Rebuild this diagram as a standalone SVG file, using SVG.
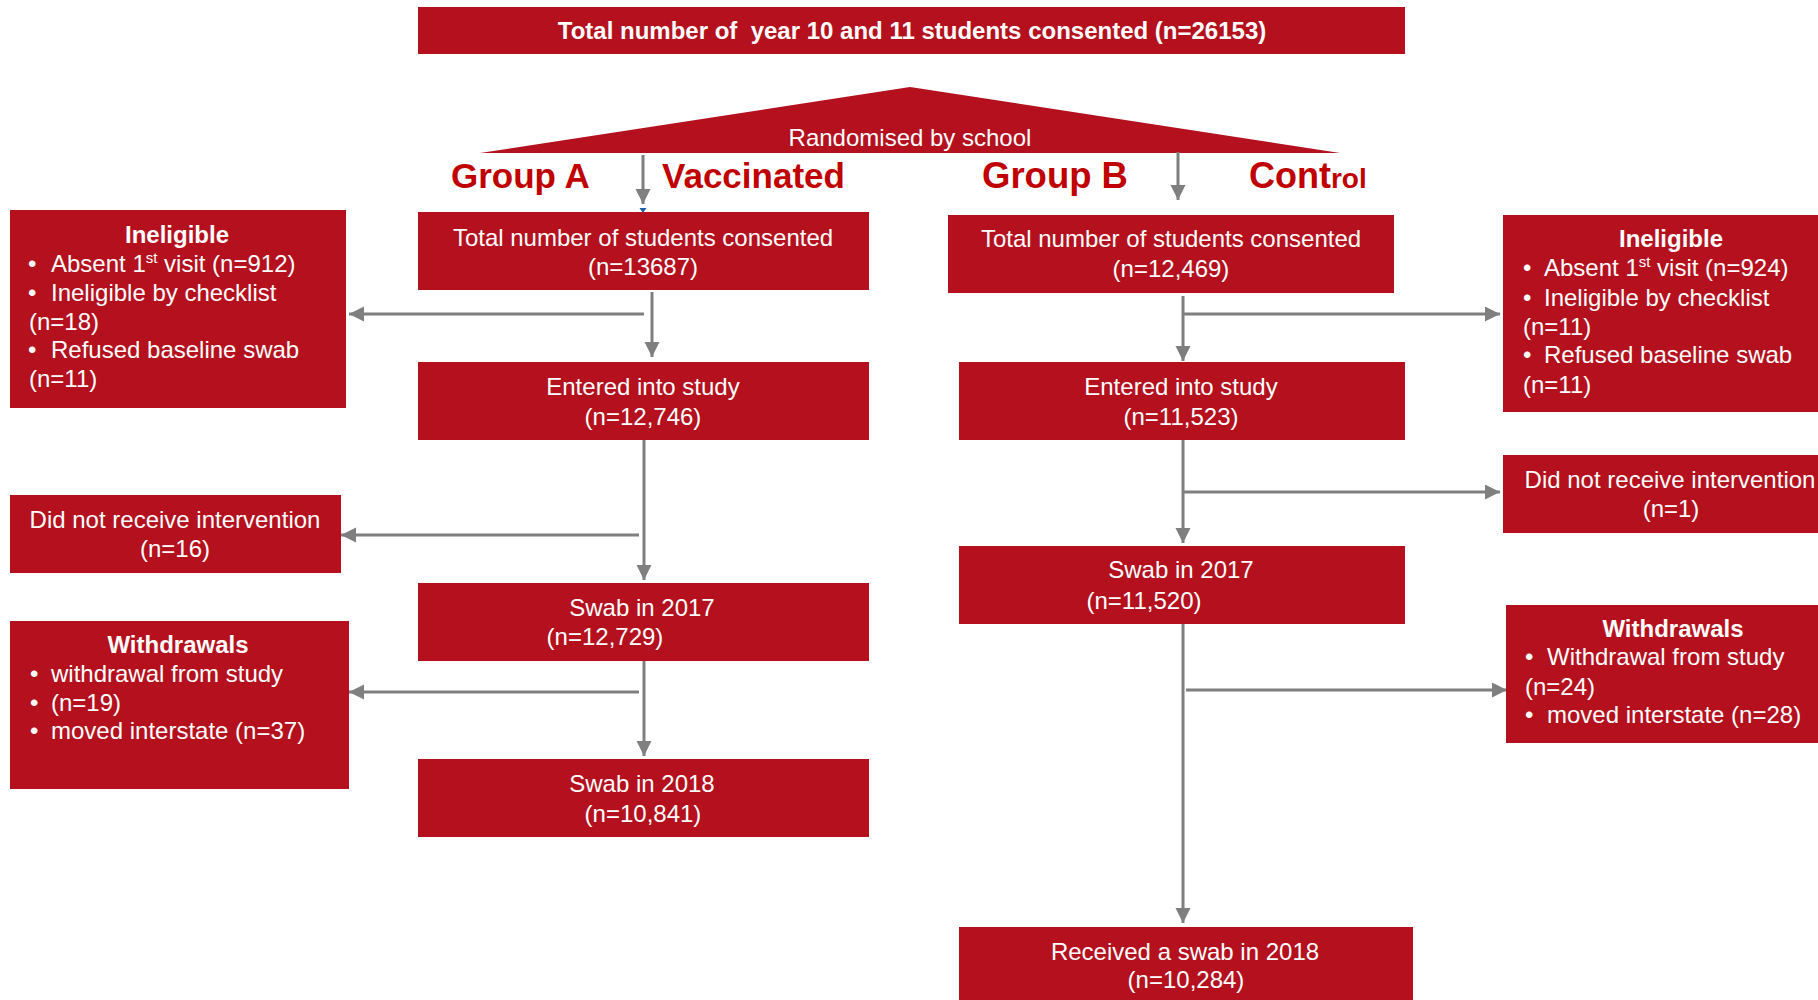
<svg xmlns="http://www.w3.org/2000/svg" width="1818" height="1000" viewBox="0 0 1818 1000">
<defs>
<style>
.box{fill:#B5101E}
.t{font-family:"Liberation Sans",Arial,sans-serif;font-size:24px;fill:#FFFFFF}
.c{text-anchor:middle}
.b{font-weight:bold}
.sup{font-size:15px}
.grp{font-family:"Liberation Sans",Arial,sans-serif;font-weight:bold;fill:#C00000}
.ln{stroke:#7F7F7F;stroke-width:3;fill:none}
.arr{marker-end:url(#ah)}
</style>
<marker id="ah" markerUnits="userSpaceOnUse" markerWidth="16" markerHeight="16" refX="15" refY="7.5" orient="auto">
<path d="M0,0 L15,7.5 L0,15 z" fill="#7F7F7F"/>
</marker>
</defs>
<rect width="1818" height="1000" fill="#FFFFFF"/>

<g id="top">
<rect class="box" x="418" y="7" width="987" height="47"/>
<text class="t c b" x="912" y="39">Total number of &#160;year 10 and 11 students consented (n=26153)</text>
</g>

<g id="randomised">
<polygon class="box" points="910,87 480,153 1340,153"/>
<text class="t c" x="910" y="146">Randomised by school</text>
</g>

<g id="labels">
<text class="grp" x="451" y="188" font-size="35">Group A</text>
<text class="grp" x="662" y="188" font-size="35">Vaccinated</text>
<text class="grp" x="982" y="188" font-size="36.5">Group B</text>
<text class="grp" x="1249" y="188" font-size="36">Cont<tspan font-size="28">rol</tspan></text>
</g>

<g id="connectors">
<line class="ln arr" x1="643" y1="155" x2="643" y2="204"/>
<polygon points="639.5,208 646.5,208 643,213" fill="#1F5FA8"/>
<line class="ln arr" x1="1178" y1="152" x2="1178" y2="200"/>
<line class="ln arr" x1="652" y1="292" x2="652" y2="357"/>
<line class="ln arr" x1="644" y1="314" x2="349" y2="314"/>
<line class="ln arr" x1="644" y1="440" x2="644" y2="580"/>
<line class="ln arr" x1="639" y1="535" x2="341" y2="535"/>
<line class="ln arr" x1="644" y1="661" x2="644" y2="756"/>
<line class="ln arr" x1="639" y1="692" x2="349" y2="692"/>
<line class="ln arr" x1="1183" y1="296" x2="1183" y2="361"/>
<line class="ln arr" x1="1183" y1="314" x2="1500" y2="314"/>
<line class="ln arr" x1="1183" y1="440" x2="1183" y2="543"/>
<line class="ln arr" x1="1183" y1="492" x2="1500" y2="492"/>
<line class="ln arr" x1="1183" y1="624" x2="1183" y2="923"/>
<line class="ln arr" x1="1186" y1="690" x2="1507" y2="690"/>
</g>

<g id="a_total">
<rect class="box" x="418" y="212" width="451" height="78"/>
<text class="t c" x="643" y="246">Total number of students consented</text>
<text class="t c" x="643" y="275">(n=13687)</text>
</g>
<g id="a_entered">
<rect class="box" x="418" y="362" width="451" height="78"/>
<text class="t c" x="643" y="395">Entered into study</text>
<text class="t c" x="643" y="425">(n=12,746)</text>
</g>
<g id="a_swab2017">
<rect class="box" x="418" y="583" width="451" height="78"/>
<text class="t c" x="642" y="616">Swab in 2017</text>
<text class="t c" x="605" y="645">(n=12,729)</text>
</g>
<g id="a_swab2018">
<rect class="box" x="418" y="759" width="451" height="78"/>
<text class="t c" x="642" y="792">Swab in 2018</text>
<text class="t c" x="643" y="822">(n=10,841)</text>
</g>

<g id="a_ineligible">
<rect class="box" x="10" y="210" width="336" height="198"/>
<text class="t c b" x="177" y="243">Ineligible</text>
<text class="t" y="272"><tspan x="28">•</tspan><tspan x="51">Absent 1</tspan><tspan class="sup" dy="-9">st</tspan><tspan dy="9"> visit (n=912)</tspan></text>
<text class="t" y="301"><tspan x="28">•</tspan><tspan x="51">Ineligible by checklist</tspan></text>
<text class="t" x="29" y="330">(n=18)</text>
<text class="t" y="358"><tspan x="28">•</tspan><tspan x="51">Refused baseline swab</tspan></text>
<text class="t" x="29" y="387">(n=11)</text>
</g>
<g id="a_dnr">
<rect class="box" x="10" y="495" width="331" height="78"/>
<text class="t c" x="175" y="528">Did not receive intervention</text>
<text class="t c" x="175" y="557">(n=16)</text>
</g>
<g id="a_withdrawals">
<rect class="box" x="10" y="621" width="339" height="168"/>
<text class="t c b" x="178" y="653">Withdrawals</text>
<text class="t" y="682"><tspan x="30">•</tspan><tspan x="51">withdrawal from study</tspan></text>
<text class="t" y="711"><tspan x="30">•</tspan><tspan x="51">(n=19)</tspan></text>
<text class="t" y="739"><tspan x="30">•</tspan><tspan x="51">moved interstate (n=37)</tspan></text>
</g>

<g id="b_total">
<rect class="box" x="948" y="215" width="446" height="78"/>
<text class="t c" x="1171" y="247">Total number of students consented</text>
<text class="t c" x="1171" y="277">(n=12,469)</text>
</g>
<g id="b_entered">
<rect class="box" x="959" y="362" width="446" height="78"/>
<text class="t c" x="1181" y="395">Entered into study</text>
<text class="t c" x="1181" y="425">(n=11,523)</text>
</g>
<g id="b_swab2017">
<rect class="box" x="959" y="546" width="446" height="78"/>
<text class="t c" x="1181" y="578">Swab in 2017</text>
<text class="t c" x="1144" y="609">(n=11,520)</text>
</g>
<g id="b_swab2018">
<rect class="box" x="959" y="927" width="454" height="73"/>
<text class="t c" x="1185" y="960">Received a swab in 2018</text>
<text class="t c" x="1186" y="988">(n=10,284)</text>
</g>

<g id="b_ineligible">
<rect class="box" x="1503" y="215" width="315" height="197"/>
<text class="t c b" x="1671" y="247">Ineligible</text>
<text class="t" y="276"><tspan x="1523">•</tspan><tspan x="1544">Absent 1</tspan><tspan class="sup" dy="-9">st</tspan><tspan dy="9"> visit (n=924)</tspan></text>
<text class="t" y="306"><tspan x="1523">•</tspan><tspan x="1544">Ineligible by checklist</tspan></text>
<text class="t" x="1523" y="335">(n=11)</text>
<text class="t" y="363"><tspan x="1523">•</tspan><tspan x="1544">Refused baseline swab</tspan></text>
<text class="t" x="1523" y="393">(n=11)</text>
</g>
<g id="b_dnr">
<rect class="box" x="1503" y="455" width="315" height="78"/>
<text class="t c" x="1670" y="488">Did not receive intervention</text>
<text class="t c" x="1671" y="517">(n=1)</text>
</g>
<g id="b_withdrawals">
<rect class="box" x="1506" y="605" width="312" height="138"/>
<text class="t c b" x="1673" y="637">Withdrawals</text>
<text class="t" y="665"><tspan x="1525">•</tspan><tspan x="1547">Withdrawal from study</tspan></text>
<text class="t" x="1525" y="695">(n=24)</text>
<text class="t" y="723"><tspan x="1525">•</tspan><tspan x="1547">moved interstate (n=28)</tspan></text>
</g>
</svg>
